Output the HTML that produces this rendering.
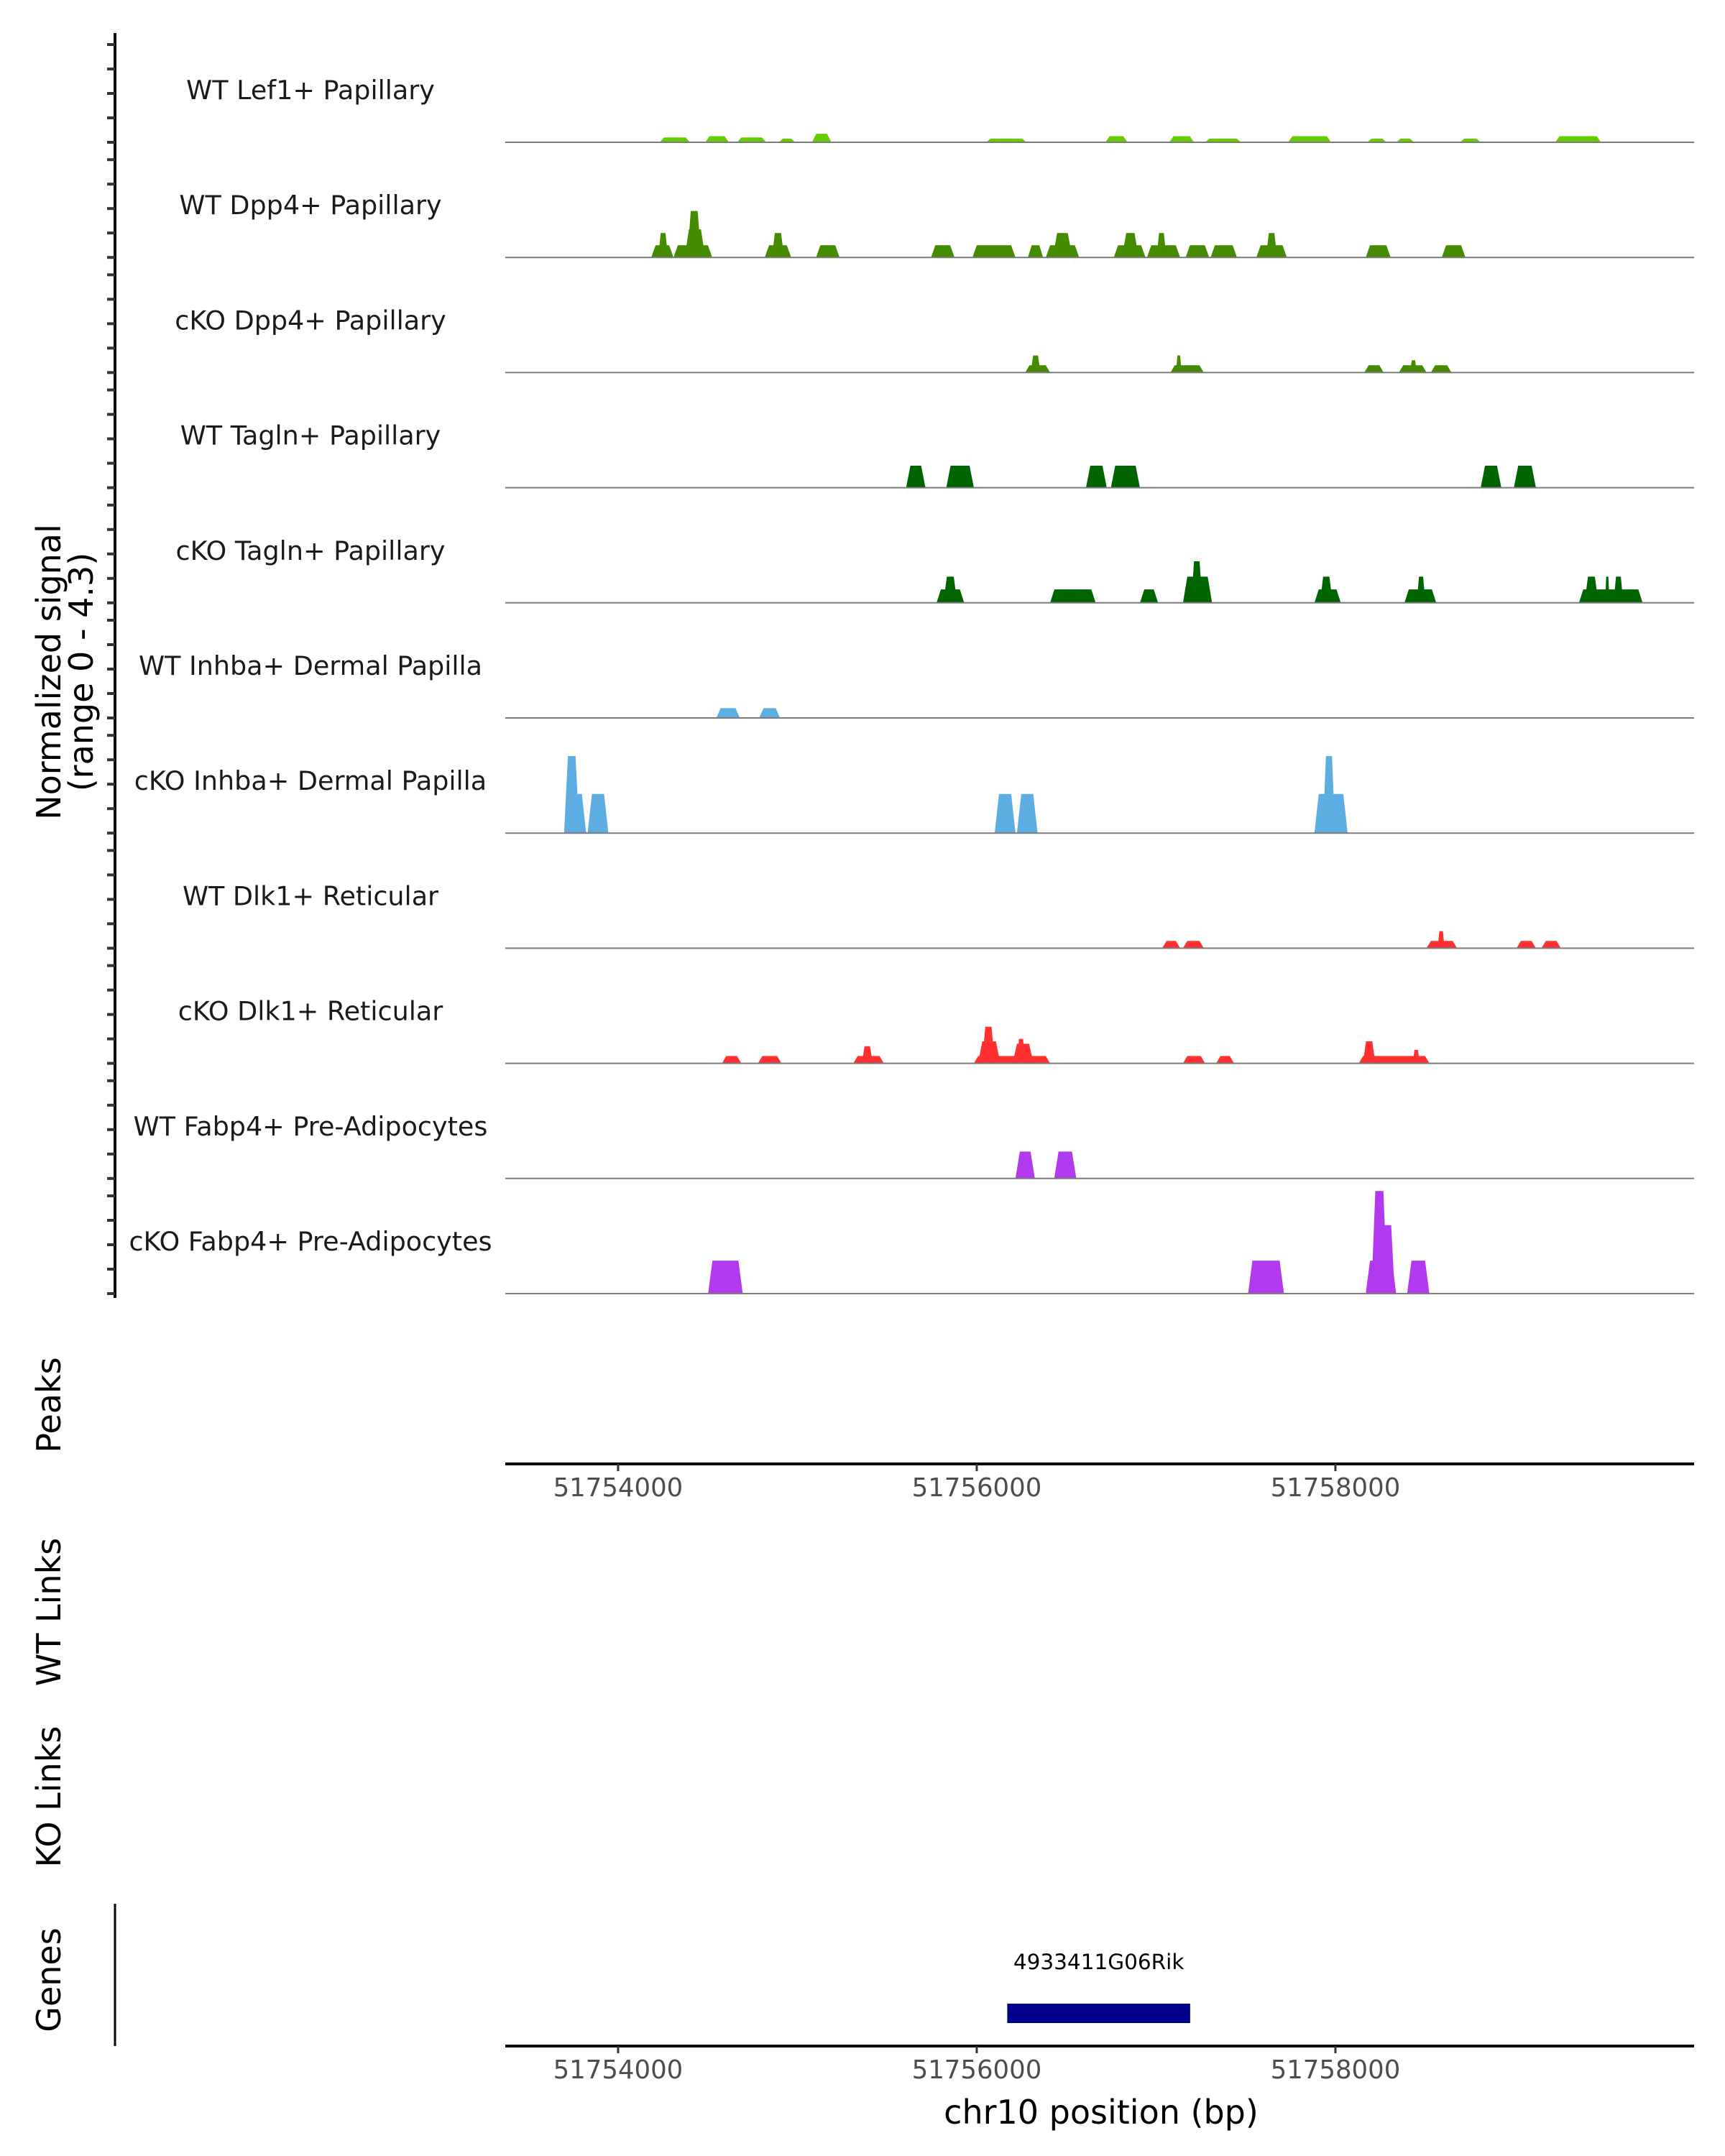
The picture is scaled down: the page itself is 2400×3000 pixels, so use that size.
<!DOCTYPE html>
<html><head><meta charset="utf-8">
<style>
html,body{margin:0;padding:0;background:#fff;}
svg{display:block;font-family:"DejaVu Sans","Liberation Sans",sans-serif;}
</style></head>
<body>
<svg id="chart" width="2400" height="3000" viewBox="0 0 2400 3000" xmlns="http://www.w3.org/2000/svg">
  <g id="tracks"></g>
  <line x1="160" y1="46" x2="160" y2="1806" stroke="#000" stroke-width="4"/>
  <g id="yticks"></g>
  <text transform="translate(84,935) rotate(-90)" text-anchor="middle" font-size="46" fill="#000">Normalized signal</text>
  <text transform="translate(129,935) rotate(-90)" text-anchor="middle" font-size="46" fill="#000">(range 0 - 4.3)</text>
  <text transform="translate(84,1955) rotate(-90)" text-anchor="middle" font-size="46" fill="#000">Peaks</text>
  <text transform="translate(84,2243) rotate(-90)" text-anchor="middle" font-size="46" fill="#000">WT Links</text>
  <text transform="translate(84,2500) rotate(-90)" text-anchor="middle" font-size="46" fill="#000">KO Links</text>
  <text transform="translate(84,2755) rotate(-90)" text-anchor="middle" font-size="46" fill="#000">Genes</text>
  <line x1="160" y1="2649" x2="160" y2="2847" stroke="#000" stroke-width="3"/>
  <g id="axes"></g>
  <g id="genes"></g>
  <text x="1532" y="2955" text-anchor="middle" font-size="46" fill="#000">chr10 position (bp)</text>
</svg>
<script>
// ---- data ----
const regionStart = 51753371;
const regionEnd = 51760000;
const xTicks = [51754000, 51756000, 51758000];
const trackNames = ["WT Lef1+ Papillary","WT Dpp4+ Papillary","cKO Dpp4+ Papillary","WT Tagln+ Papillary","cKO Tagln+ Papillary","WT Inhba+ Dermal Papilla","cKO Inhba+ Dermal Papilla","WT Dlk1+ Reticular","cKO Dlk1+ Reticular","WT Fabp4+ Pre-Adipocytes","cKO Fabp4+ Pre-Adipocytes"];
const trackColors = ["#66cc00","#458b00","#458b00","#006400","#006400","#5dade2","#5dade2","#ff3030","#ff3030","#b23aee","#b23aee"];
const yTickValues = [0,1,2,3,4];

const lef1Starts = [51754232,51754486,51754664,51754896,51755081,51756053,51756717,51757073,51757273,51757736,51758177,51758339,51758694,51759226];
const lef1Ends   = [51754401,51754618,51754826,51754988,51755189,51756277,51756841,51757212,51757474,51757976,51758285,51758439,51758810,51759481];
const lef1Heights= [0.2,0.25,0.2,0.15,0.35,0.15,0.25,0.25,0.15,0.25,0.15,0.15,0.15,0.25];

const wtDpp4Starts = [51754185,51754224,51754309,51754371,51754386,51754818,51754857,51755104,51755745,51755976,51756285,51756385,51756424,51756764,51756810,51756949,51757003,51757165,51757304,51757559,51757613,51758169,51758593];
const wtDpp4Ends   = [51754309,51754278,51754525,51754486,51754463,51754965,51754926,51755235,51755876,51756216,51756370,51756571,51756532,51756941,51756903,51757134,51757057,51757296,51757451,51757729,51757675,51758308,51758725];
const wtDpp4Heights= [0.5,1.0,0.5,1.15,1.9,0.5,1.0,0.5,0.5,0.5,0.5,0.5,1.0,0.5,1.0,0.5,1.0,0.5,0.5,0.5,1.0,0.5,0.5];

const koDpp4Starts = [51756270,51756301,51757080,51757111,51758161,51758354,51758416,51758532];
const koDpp4Ends   = [51756409,51756355,51757266,51757142,51758269,51758508,51758454,51758647];
const koDpp4Heights= [0.3,0.7,0.3,0.7,0.3,0.3,0.5,0.3];

const wtTaglnStarts = [51755606,51755830,51756609,51756748,51758810,51758995];
const wtTaglnEnds   = [51755714,51755984,51756725,51756910,51758925,51759118];
const wtTaglnHeights= [0.9,0.9,0.9,0.9,0.9,0.9];

const koTaglnStarts = [51755776,51755814,51756409,51756910,51757150,51757196,51757883,51757914,51758385,51758454,51759358,51759389,51759504,51759551];
const koTaglnEnds   = [51755930,51755891,51756663,51757011,51757312,51757258,51758030,51757984,51758562,51758501,51759713,51759466,51759528,51759605];
const koTaglnHeights= [0.55,1.07,0.55,0.55,1.07,1.7,0.55,1.07,0.55,1.07,0.55,1.07,1.07,1.07];

const wtInhbaStarts = [51754548,51754787];
const wtInhbaEnds   = [51754679,51754903];
const wtInhbaHeights= [0.4,0.4];

const koInhbaStarts = [51753699,51753699,51753830,51756100,51756224,51757883,51757930];
const koInhbaEnds   = [51753784,51753822,51753946,51756216,51756339,51758068,51757998];
const koInhbaHeights= [3.15,1.6,1.6,1.6,1.6,1.6,3.15];

const wtDlk1Starts = [51757034,51757150,51758508,51758570,51759010,51759149];
const wtDlk1Ends   = [51757134,51757266,51758678,51758609,51759118,51759257];
const wtDlk1Heights= [0.3,0.3,0.3,0.7,0.3,0.3];

const koDlk1Starts = [51754579,51754780,51755312,51755359,51755984,51756007,51756030,51756200,51756224,51757150,51757335,51758130,51758153,51758431];
const koDlk1Ends   = [51754687,51754911,51755482,51755420,51756409,51756131,51756100,51756316,51756270,51757273,51757435,51758524,51758223,51758470];
const koDlk1Heights= [0.3,0.3,0.3,0.7,0.3,0.9,1.5,0.8,1.0,0.3,0.3,0.3,0.9,0.55];

const wtFabp4Starts = [51756216,51756432];
const wtFabp4Ends   = [51756324,51756555];
const wtFabp4Heights= [1.1,1.1];

const koFabp4Starts = [51754502,51757513,51758169,51758200,51758250,51758400];
const koFabp4Ends   = [51754695,51757713,51758339,51758290,51758331,51758524];
const koFabp4Heights= [1.35,1.35,1.35,4.2,2.8,1.35];

const geneName = "4933411G06Rik";
const geneStart = 51756170;
const geneEnd = 51757190;

const trackStarts = [lef1Starts,wtDpp4Starts,koDpp4Starts,wtTaglnStarts,koTaglnStarts,wtInhbaStarts,koInhbaStarts,wtDlk1Starts,koDlk1Starts,wtFabp4Starts,koFabp4Starts];
const trackEnds = [lef1Ends,wtDpp4Ends,koDpp4Ends,wtTaglnEnds,koTaglnEnds,wtInhbaEnds,koInhbaEnds,wtDlk1Ends,koDlk1Ends,wtFabp4Ends,koFabp4Ends];
const trackHeights = [lef1Heights,wtDpp4Heights,koDpp4Heights,wtTaglnHeights,koTaglnHeights,wtInhbaHeights,koInhbaHeights,wtDlk1Heights,koDlk1Heights,wtFabp4Heights,koFabp4Heights];

// ---- layout ----
const NS = "http://www.w3.org/2000/svg";
const plotL = 703, plotR = 2357;
const firstBase = 198, trackStep = 160.2, unitPx = 34;
function xScale(bp){ return plotL + (bp - regionStart) / (regionEnd - regionStart) * (plotR - plotL); }
function trackBase(i){ return firstBase + i * trackStep; }
function yScale(v, i){ return trackBase(i) - v * unitPx; }
function mk(tag, attrs, parent){ const e = document.createElementNS(NS, tag); for (const k in attrs) e.setAttribute(k, attrs[k]); parent.appendChild(e); return e; }

const tracksG = document.getElementById('tracks');
const yticksG = document.getElementById('yticks');
for (let i = 0; i < trackNames.length; i++) {
  const g = mk('g', {}, tracksG);
  
  
  const base = trackBase(i);
  const lbl = mk('text', {x: 432, y: base - 60, 'text-anchor':'middle', 'font-size': 36.5, fill:'#1a1a1a'}, g);
  lbl.textContent = trackNames[i];
  
  
  const st = trackStarts[i], en = trackEnds[i], hs = trackHeights[i];
  for (let j = 0; j < st.length; j++) {
    const x0 = xScale(st[j]), x1 = xScale(en[j]);
    const s = Math.min(6, (x1 - x0) / 4);
    const yt = yScale(hs[j], i);
    const p = mk('polygon', {points: `${x0},${base} ${x0+s},${yt} ${x1-s},${yt} ${x1},${base}`, fill: trackColors[i]}, g);
    
    
  }
  const bl = mk('line', {x1: plotL, x2: plotR, y1: base, y2: base, stroke:'#7a7a7a', 'stroke-width': 2}, g);
  
  
  for (const v of yTickValues) {
    const t = mk('line', {x1: 149, x2: 160, y1: yScale(v, i), y2: yScale(v, i), stroke:'#333', 'stroke-width': 4}, yticksG);
    
    
  }
}

const axesG = document.getElementById('axes');
for (const ay of [2037, 2847]) {
  const a = mk('line', {x1: plotL, x2: plotR, y1: ay, y2: ay, stroke:'#000', 'stroke-width': 4}, axesG);
  
  
  for (const t of xTicks) {
    const tk = mk('line', {x1: xScale(t), x2: xScale(t), y1: ay, y2: ay + 10, stroke:'#333', 'stroke-width': 3}, axesG);
    
    
    const tl = mk('text', {x: xScale(t), y: ay + 45, 'text-anchor':'middle', 'font-size': 35.5, fill:'#4d4d4d'}, axesG);
    tl.textContent = t;
    
    
  }
}

const genesG = document.getElementById('genes');
const gb = mk('rect', {x: xScale(geneStart), y: 2788, width: xScale(geneEnd) - xScale(geneStart), height: 27, fill:'#00008b'}, genesG);


const gl = mk('text', {x: (xScale(geneStart)+xScale(geneEnd))/2, y: 2740, 'text-anchor':'middle', 'font-size': 29.5, fill:'#000'}, genesG);
gl.textContent = geneName;


</script>
</body></html>
